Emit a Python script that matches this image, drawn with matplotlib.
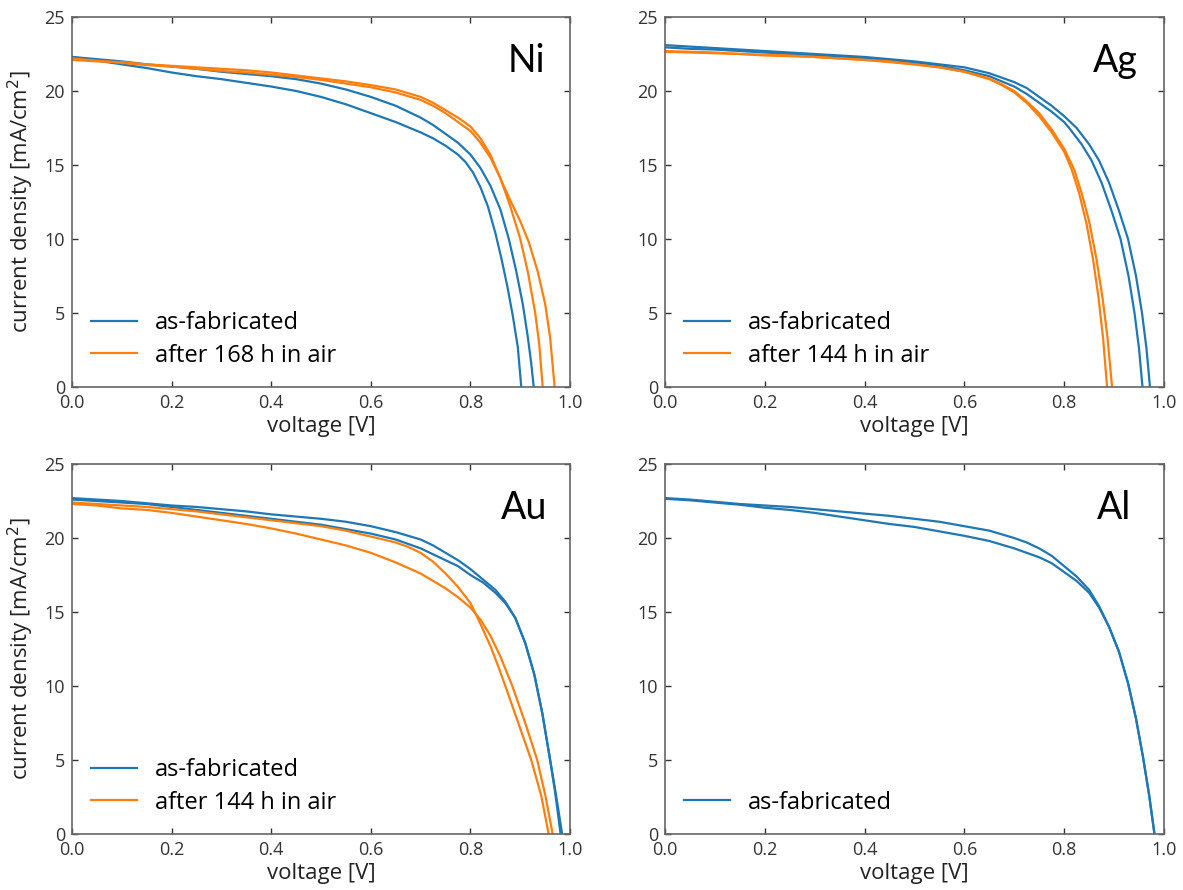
import matplotlib
matplotlib.use("Agg")
import matplotlib.pyplot as plt

plt.rcParams['font.family'] = ['Open Sans', 'DejaVu Sans']

BLUE = '#1f77b4'
ORANGE = '#ff7f0e'

# common voltage steps for the flat part of the J-V curves [V]
v_flat = [0.0, 0.05, 0.1, 0.15, 0.2, 0.25, 0.3, 0.35, 0.4, 0.45, 0.5, 0.55, 0.6]

# ---- Ni ----
ni_fab1_v = v_flat + [0.65, 0.7, 0.725, 0.75, 0.775, 0.79, 0.805, 0.82, 0.835, 0.85, 0.862, 0.874, 0.885, 0.895, 0.902]
ni_fab1_j = [22.3, 22.05, 21.8, 21.55, 21.25, 21.0, 20.8, 20.55, 20.3, 20.0, 19.6, 19.1, 18.5,
             17.9, 17.2, 16.8, 16.3, 15.7, 15.2, 14.5, 13.5, 12.2, 10.4, 8.7, 6.8, 4.8, 2.7, 0.0]
ni_fab2_v = v_flat + [0.65, 0.7, 0.725, 0.75, 0.775, 0.8, 0.82, 0.84, 0.86, 0.877, 0.892, 0.905, 0.915, 0.922, 0.927]
ni_fab2_j = [22.3, 22.15, 22.0, 21.8, 21.65, 21.5, 21.3, 21.15, 21.0, 20.8, 20.5, 20.1, 19.6,
             19.0, 18.2, 17.7, 17.1, 16.5, 15.7, 14.8, 13.6, 12.0, 10.0, 7.8, 5.6, 3.4, 1.6, 0.0]
ni_air1_v = v_flat + [0.65, 0.7, 0.725, 0.75, 0.775, 0.8, 0.82, 0.84, 0.86, 0.88, 0.9, 0.915, 0.93, 0.938, 0.945]
ni_air1_j = [22.1, 22.0, 21.95, 21.8, 21.7, 21.6, 21.5, 21.4, 21.25, 21.05, 20.85, 20.65, 20.4,
             20.1, 19.6, 19.2, 18.7, 18.2, 17.6, 16.8, 15.7, 14.1, 12.2, 10.0, 7.8, 5.0, 2.9, 0.0]
ni_air2_v = v_flat + [0.65, 0.7, 0.725, 0.75, 0.775, 0.8, 0.82, 0.84, 0.86, 0.88, 0.9, 0.917, 0.935, 0.95, 0.96, 0.969]
ni_air2_j = [22.2, 22.05, 21.9, 21.75, 21.65, 21.5, 21.35, 21.25, 21.1, 20.95, 20.75, 20.5, 20.25,
             19.9, 19.4, 19.0, 18.5, 17.9, 17.3, 16.5, 15.5, 14.1, 12.6, 11.2, 9.8, 7.8, 5.6, 3.3, 0.0]

# ---- Ag ----
ag_fab1_v = v_flat + [0.65, 0.7, 0.725, 0.75, 0.775, 0.8, 0.825, 0.85, 0.87, 0.89, 0.91, 0.928, 0.944, 0.956, 0.965, 0.972]
ag_fab1_j = [23.1, 23.0, 22.9, 22.8, 22.7, 22.6, 22.5, 22.4, 22.3, 22.15, 22.0, 21.8, 21.6,
             21.2, 20.6, 20.2, 19.6, 19.0, 18.3, 17.5, 16.4, 15.3, 13.8, 11.9, 10.0, 7.5, 5.0, 2.6, 0.0]
ag_fab2_v = v_flat + [0.65, 0.7, 0.725, 0.75, 0.775, 0.8, 0.81, 0.835, 0.855, 0.875, 0.895, 0.913, 0.929, 0.941, 0.95, 0.957]
ag_fab2_j = [22.95, 22.85, 22.8, 22.7, 22.6, 22.5, 22.4, 22.3, 22.2, 22.05, 21.9, 21.7, 21.4,
             21.0, 20.3, 19.8, 19.2, 18.6, 17.9, 17.5, 16.4, 15.3, 13.8, 11.9, 10.0, 7.5, 5.0, 2.6, 0.0]
ag_air1_v = v_flat + [0.65, 0.675, 0.7, 0.725, 0.75, 0.775, 0.8, 0.815, 0.83, 0.845, 0.858, 0.869, 0.878, 0.886]
ag_air1_j = [22.7, 22.65, 22.6, 22.5, 22.45, 22.4, 22.3, 22.2, 22.1, 22.0, 21.8, 21.6, 21.3,
             20.8, 20.4, 19.9, 19.2, 18.3, 17.2, 15.9, 14.7, 13.1, 11.0, 8.6, 6.0, 3.3, 0.0]
ag_air2_v = v_flat + [0.65, 0.675, 0.7, 0.725, 0.75, 0.775, 0.8, 0.82, 0.835, 0.85, 0.865, 0.877, 0.887, 0.896]
ag_air2_j = [22.65, 22.6, 22.55, 22.5, 22.4, 22.35, 22.3, 22.2, 22.1, 21.95, 21.8, 21.6, 21.3,
             20.85, 20.45, 20.0, 19.3, 18.5, 17.4, 16.1, 14.7, 13.1, 11.2, 8.6, 6.0, 3.3, 0.0]

# ---- Au ----
au_fab1_v = v_flat + [0.65, 0.7, 0.725, 0.75, 0.775, 0.8, 0.825, 0.85, 0.87, 0.89, 0.91, 0.928, 0.944, 0.958, 0.972, 0.984]
au_fab1_j = [22.7, 22.6, 22.5, 22.35, 22.2, 22.1, 21.95, 21.8, 21.6, 21.45, 21.3, 21.1, 20.8,
             20.4, 19.9, 19.5, 19.0, 18.5, 17.9, 17.2, 16.5, 15.7, 14.6, 12.9, 10.8, 8.2, 5.4, 2.6, 0.0]
au_fab2_v = v_flat + [0.65, 0.7, 0.725, 0.75, 0.775, 0.8, 0.825, 0.85, 0.87, 0.89, 0.91, 0.928, 0.944, 0.958, 0.97, 0.981]
au_fab2_j = [22.6, 22.5, 22.4, 22.3, 22.1, 21.9, 21.7, 21.5, 21.3, 21.1, 20.9, 20.6, 20.3,
             19.9, 19.3, 18.9, 18.5, 18.1, 17.5, 17.0, 16.3, 15.6, 14.6, 12.9, 10.8, 8.2, 5.4, 2.8, 0.0]
au_air1_v = v_flat + [0.65, 0.675, 0.7, 0.725, 0.75, 0.775, 0.8, 0.82, 0.84, 0.855, 0.87, 0.895, 0.922, 0.942, 0.957]
au_air1_j = [22.4, 22.3, 22.2, 22.1, 21.95, 21.8, 21.6, 21.4, 21.2, 21.0, 20.8, 20.5, 20.1,
             19.7, 19.4, 19.0, 18.4, 17.6, 16.7, 15.6, 14.2, 12.7, 11.4, 10.0, 7.6, 5.0, 2.6, 0.0]
au_air2_v = v_flat + [0.65, 0.7, 0.725, 0.75, 0.775, 0.8, 0.82, 0.84, 0.86, 0.884, 0.91, 0.934, 0.951, 0.965]
au_air2_j = [22.3, 22.2, 22.0, 21.9, 21.7, 21.45, 21.2, 20.95, 20.65, 20.3, 19.9, 19.5, 19.0,
             18.35, 17.6, 17.1, 16.6, 16.0, 15.3, 14.5, 13.4, 12.0, 10.0, 7.5, 5.0, 2.5, 0.0]

# ---- Al ----
al_v = v_flat + [0.65, 0.7, 0.725, 0.75, 0.775, 0.8, 0.825, 0.85, 0.87, 0.89, 0.91, 0.928, 0.944, 0.958, 0.97, 0.981]
al_fab1_j = [22.7, 22.6, 22.45, 22.3, 22.2, 22.1, 21.95, 21.8, 21.65, 21.5, 21.3, 21.1, 20.8,
             20.5, 20.0, 19.7, 19.3, 18.8, 18.1, 17.4, 16.5, 15.4, 14.0, 12.3, 10.2, 7.8, 5.2, 2.7, 0.0]
al_fab2_j = [22.65, 22.55, 22.4, 22.25, 22.05, 21.9, 21.7, 21.45, 21.2, 20.95, 20.75, 20.45, 20.15,
             19.8, 19.3, 19.0, 18.7, 18.3, 17.7, 17.1, 16.3, 15.3, 14.0, 12.3, 10.2, 7.8, 5.2, 2.7, 0.0]

panels = [
    ('Ni', [(ni_fab1_v, ni_fab1_j), (ni_fab2_v, ni_fab2_j)],
     [(ni_air1_v, ni_air1_j), (ni_air2_v, ni_air2_j)], 'after 168 h in air'),
    ('Ag', [(ag_fab1_v, ag_fab1_j), (ag_fab2_v, ag_fab2_j)],
     [(ag_air1_v, ag_air1_j), (ag_air2_v, ag_air2_j)], 'after 144 h in air'),
    ('Au', [(au_fab1_v, au_fab1_j), (au_fab2_v, au_fab2_j)],
     [(au_air1_v, au_air1_j), (au_air2_v, au_air2_j)], 'after 144 h in air'),
    ('Al', [(al_v, al_fab1_j), (al_v, al_fab2_j)], [], None),
]

# axes rectangles in figure fractions (left, bottom, width, height)
rects = [
    (0.0609, 0.5652, 0.4210, 0.4157),
    (0.5621, 0.5652, 0.4218, 0.4157),
    (0.0609, 0.0629, 0.4210, 0.4157),
    (0.5621, 0.0629, 0.4218, 0.4157),
]
label_x = [0.95, 0.948, 0.955, 0.934]

fig = plt.figure(figsize=(11.83, 8.9), dpi=100)

for i, (name, fab, air, air_label) in enumerate(panels):
    ax = fig.add_axes(rects[i])
    handles = []
    for k, (v, j) in enumerate(fab):
        ln, = ax.plot(v, j, color=BLUE, lw=1.6)
        if k == 0:
            handles.append((ln, 'as-fabricated'))
    for k, (v, j) in enumerate(air):
        ln, = ax.plot(v, j, color=ORANGE, lw=1.6)
        if k == 0:
            handles.append((ln, air_label))

    ax.set_xlim(0, 1)
    ax.set_ylim(0, 25)
    ax.set_xticks([0.0, 0.2, 0.4, 0.6, 0.8, 1.0])
    ax.set_yticks([0, 5, 10, 15, 20, 25])
    ax.tick_params(direction='in', top=True, right=True, length=4, width=1,
                   labelsize=13, colors='#333333', pad=5)
    for s in ax.spines.values():
        s.set_color('#666666')
        s.set_linewidth(1.2)

    ax.set_xlabel('voltage [V]', fontsize=16, color='#222222', labelpad=3)
    if i % 2 == 0:
        ax.set_ylabel('current density [mA/cm$^2$]', fontsize=16, color='#222222',
                      labelpad=6)

    ax.text(label_x[i], 0.93, name, transform=ax.transAxes, ha='right', va='top',
            fontsize=27, family='Lato', color='black')

    ax.legend([h for h, _ in handles], [l for _, l in handles], loc='lower left',
              frameon=False, fontsize=17, handlelength=1.95, handletextpad=0.75,
              labelspacing=0.35, borderaxespad=0.2, bbox_to_anchor=(0.01, 0.014))

fig.savefig('out.png', dpi=100)
